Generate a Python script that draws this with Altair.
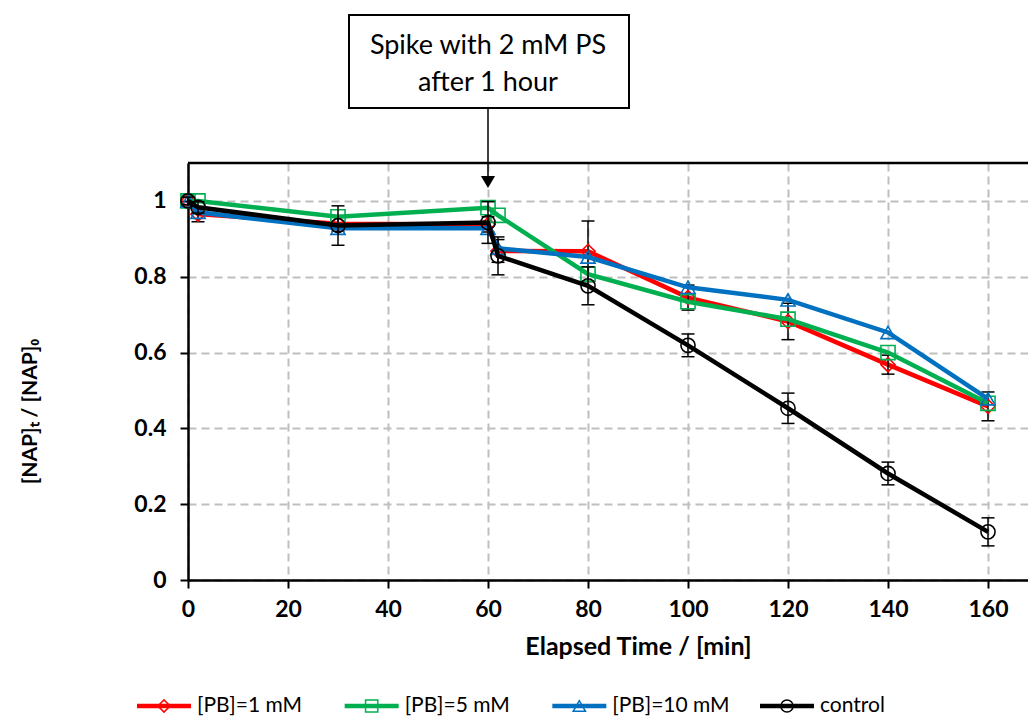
import altair as alt
import pandas as pd

# ---------------- data ----------------
time = [0, 2, 30, 60, 62, 80, 100, 120, 140, 160]
series_names = ["[PB]=1 mM", "[PB]=5 mM", "[PB]=10 mM", "control"]
pb1 = [1.0, 0.965, 0.940, 0.938, 0.868, 0.867, 0.745, 0.682, 0.568, 0.458]
pb5 = [1.0, 1.0, 0.958, 0.982, 0.962, 0.807, 0.734, 0.688, 0.600, 0.466]
pb10 = [1.0, 0.970, 0.928, 0.928, 0.875, 0.852, 0.772, 0.739, 0.653, 0.478]
control = [1.0, 0.983, 0.935, 0.943, 0.855, 0.776, 0.619, 0.453, 0.281, 0.127]
pb1_err = [0.01, 0.02, 0.02, 0.02, 0.03, 0.08, 0.033, 0.048, 0.025, 0.038]
control_err = [0.01, 0.015, 0.052, 0.055, 0.05, 0.05, 0.03, 0.04, 0.03, 0.037]
colors = ["#FF0000", "#00B050", "#0070C0", "#000000"]
shapes = ["diamond", "square", "triangle-up", "circle"]
x_ticks = [0, 20, 40, 60, 80, 100, 120, 140, 160]
y_ticks = [0, 0.2, 0.4, 0.6, 0.8, 1.0]
annotation_lines = ["Spike with 2 mM PS", "after 1 hour"]
spike_time = [60]

all_values = [pb1, pb5, pb10, control]
rows = []
for name, vals in zip(series_names, all_values):
    for t, v in zip(time, vals):
        rows.append({"time": t, "value": v, "series": name})
df = pd.DataFrame(rows)

err_rows = []
for name, vals, errs in [(series_names[0], pb1, pb1_err), (series_names[3], control, control_err)]:
    for t, v, e in zip(time, vals, errs):
        err_rows.append({"time": t, "lo": v - e, "hi": v + e, "series": name})
err_df = pd.DataFrame(err_rows)

legend_df = pd.DataFrame({"series": series_names})
spike_df = pd.DataFrame({"time": spike_time})

FONT = "Lato"

x_scale = alt.Scale(domain=[0, 168], nice=False)
y_scale = alt.Scale(domain=[0, 1.1], nice=False)
color_scale = alt.Scale(domain=series_names, range=colors)
shape_scale = alt.Scale(domain=series_names, range=shapes)

x_enc = alt.X(
    "time:Q", scale=x_scale,
    axis=alt.Axis(values=x_ticks, title="Elapsed Time / [min]", titleX=450, titleY=66,
                  titleBaseline="middle", titleAlign="center", labelPadding=10,
                  labelFlush=False, titleFontSize=25),
)
y_enc = alt.Y(
    "value:Q", scale=y_scale,
    axis=alt.Axis(values=y_ticks, format=".1~f", title="[NAP]ₜ / [NAP]₀", titleX=-158,
                  titleY=248, titleBaseline="middle", titleAlign="center", labelPadding=14,
                  titleFontSize=21),
)

layers = []
# top border
layers.append(
    alt.Chart(spike_df).mark_rule(color="black", strokeWidth=2.5).encode(y=alt.datum(1.1))
)

for i, name in enumerate(series_names):
    sub = alt.Chart(df).transform_filter(alt.datum.series == name)
    layers.append(
        sub.mark_line(strokeWidth=4.5, opacity=1).encode(
            x=x_enc, y=y_enc,
            color=alt.Color("series:N", scale=color_scale, legend=None),
        )
    )
    if name in err_df["series"].values:
        esub = alt.Chart(err_df).transform_filter(alt.datum.series == name)
        layers.append(
            esub.mark_rule(color="black", strokeWidth=1.5, opacity=1).encode(
                x="time:Q", y="lo:Q", y2="hi:Q"
            )
        )
        layers.append(
            esub.mark_tick(color="black", orient="horizontal", size=13, thickness=1.5, opacity=1).encode(
                x="time:Q", y="lo:Q"
            )
        )
        layers.append(
            esub.mark_tick(color="black", orient="horizontal", size=13, thickness=1.5, opacity=1).encode(
                x="time:Q", y="hi:Q"
            )
        )
    layers.append(
        sub.mark_point(filled=False, strokeWidth=1.6, size=200, opacity=1).encode(
            x="time:Q", y="value:Q",
            color=alt.Color("series:N", scale=color_scale, legend=None),
            shape=alt.Shape("series:N", scale=shape_scale, legend=None),
        )
    )

# annotation box + arrow
ann = alt.Chart(spike_df)
layers.append(
    ann.mark_rect(fill="white", stroke="black", strokeWidth=2, opacity=1).encode(
        x=alt.value(161), x2=alt.value(441), y=alt.value(-148), y2=alt.value(-55)
    )
)
layers.append(
    ann.mark_text(font=FONT, fontSize=27, color="black", lineHeight=37, baseline="middle").encode(
        x="time:Q", y=alt.value(-117), text=alt.value(annotation_lines)
    )
)
layers.append(
    ann.mark_rule(color="black", strokeWidth=1.5).encode(
        x="time:Q", y=alt.value(-55), y2=alt.value(14)
    )
)
layers.append(
    ann.mark_point(shape="triangle-down", filled=True, color="black", size=200, opacity=1).encode(
        x="time:Q", y=alt.value(19)
    )
)

main = alt.layer(*layers)

# custom legend
leg_x = alt.X("series:N", scale=alt.Scale(type="point", domain=series_names, range=[-24, 599], padding=0),
              axis=None)
leg = alt.Chart(legend_df)
legend = alt.layer(
    leg.mark_tick(orient="horizontal", size=54, thickness=4.5, opacity=1).encode(
        x=leg_x, y=alt.value(543),
        color=alt.Color("series:N", scale=color_scale, legend=None),
    ),
    leg.mark_point(filled=False, strokeWidth=1.5, size=150, opacity=1).encode(
        x=leg_x, y=alt.value(543),
        color=alt.Color("series:N", scale=color_scale, legend=None),
        shape=alt.Shape("series:N", scale=shape_scale, legend=None),
    ),
    leg.mark_text(align="left", baseline="middle", dx=33, font=FONT, fontSize=21, color="black").encode(
        x=leg_x, y=alt.value(543), text="series:N"
    ),
)

chart = (
    alt.layer(main, legend)
    .resolve_scale(x="independent")
    .properties(
        width=840, height=417,
        padding={"left": 188, "top": 163, "right": 0, "bottom": 139},
        autosize=alt.AutoSizeParams(type="none"),
    )
    .configure_axis(
        labelFont=FONT, labelFontWeight="bold", labelFontSize=23, labelColor="black",
        titleFont=FONT, titleFontWeight="bold", titleColor="black",
        domainColor="black", domainWidth=2.5, tickColor="black", tickWidth=2, tickSize=8,
        grid=True, gridDash=[8, 5], gridColor="#BFBFBF", gridWidth=2,
    )
    .configure_view(stroke=None)
)

chart.save("out.html", embed_options={"renderer": "svg", "actions": False})
